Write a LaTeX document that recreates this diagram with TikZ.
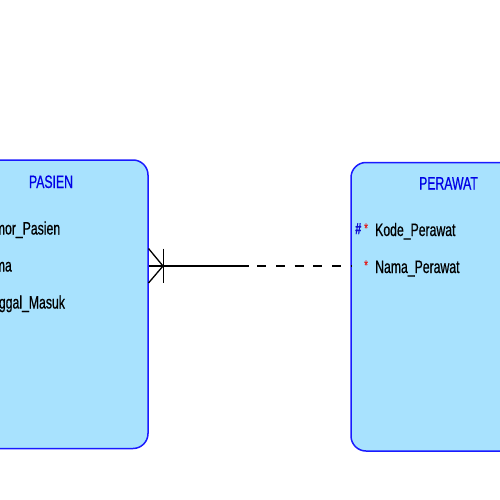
\documentclass[tikz,border=0pt]{standalone}
\usepackage{fontspec}
\newfontfamily\erfont[FakeStretch=0.68,FakeBold=0.6]{Liberation Sans}
\definecolor{entfill}{HTML}{A8E2FE}
\definecolor{entdraw}{HTML}{1A1AFF}
\definecolor{titleblue}{HTML}{0000E6}
\definecolor{keyblue}{HTML}{1010D0}
\definecolor{starred}{HTML}{E02020}
\begin{document}
\begin{tikzpicture}[x=1pt,y=-1pt,
  entity/.style={draw=entdraw, fill=entfill, line width=1.5pt, rounded corners=15pt,
    rectangle, inner sep=0pt},
  etitle/.style={anchor=base, inner sep=0pt, font=\erfont\fontsize{18}{20}\selectfont, text=titleblue},
  eattr/.style={anchor=base west, inner sep=0pt, font=\erfont\fontsize{18}{20}\selectfont, text=black},
  ekey/.style={anchor=base west, inner sep=0pt, font=\erfont\fontsize{16}{18}\selectfont\bfseries, text=keyblue},
  estar/.style={anchor=base west, inner sep=0pt, font=\erfont\fontsize{14}{15}\selectfont, text=starred},
  rel/.style={line width=1.8pt, black},
  crow/.style={line width=1.3pt, black}]
\useasboundingbox (0,0) rectangle (500,500);
\begin{scope}
\clip (0,0) rectangle (500,500);
% entities
\node[entity, minimum width=194.5pt, minimum height=288.5pt] (pasien) at (50.75,304.25) {};
\node[entity, minimum width=195pt, minimum height=288.5pt] (perawat) at (448.5,306.75) {};
% titles
\node[etitle] (tpasien) at (51,188) {PASIEN};
\node[etitle] (tperawat) at (448.5,189.5) {PERAWAT};
% attributes PASIEN
\node[eattr] (a1) at (-21,234.5) {Nomor\_Pasien};
\node[eattr] (a2) at (-21,271.5) {Nama};
\node[eattr] (a3) at (-21,308.5) {Tanggal\_Masuk};
% attributes PERAWAT
\node[ekey] (k1) at (355,234) {\#};
\node[estar] (s1) at (364,233) {*};
\node[eattr] (b1) at (375,236) {Kode\_Perawat};
\node[estar] (s2) at (364,270) {*};
\node[eattr] (b2) at (375,273) {Nama\_Perawat};
% relationship
\coordinate (pa) at (148.5,266);
\coordinate (mid) at (249,266);
\coordinate (pe) at (351,266);
\coordinate (foot) at (163,266);
\coordinate (ftop) at (148.5,248.5);
\coordinate (fbot) at (148.5,283);
\coordinate (btop) at (163.3,248.5);
\coordinate (bbot) at (163.3,283);
\draw[rel] (pa) -- (mid);
\draw[rel, dash pattern=on 9pt off 9.7pt, dash phase=-8.3pt] (mid) -- (pe);
\draw[crow] (ftop) -- (foot) -- (fbot);
\draw[crow] (btop) -- (bbot);
\end{scope}
\end{tikzpicture}
\end{document}
